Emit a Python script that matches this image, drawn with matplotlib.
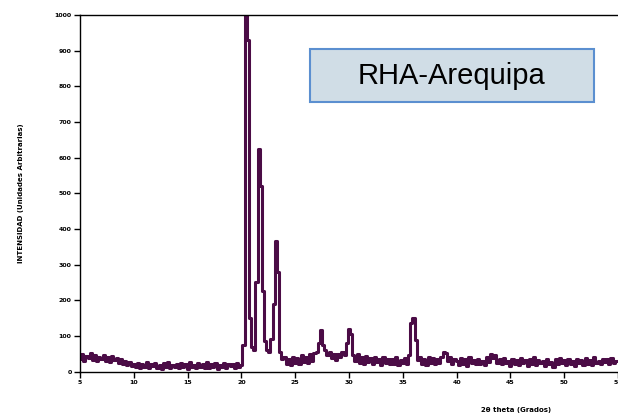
import numpy as np
import matplotlib
matplotlib.use("Agg")
import matplotlib.pyplot as plt
from matplotlib.patches import Rectangle

# scan grid: 5.0 .. 54.8 deg, step 0.2
two_theta = np.linspace(5.0, 54.8, 250)

# intensities, by angle range
low_angle = [35, 48, 30, 44, 38, 52, 33, 45, 29, 42, 36, 47, 30, 40, 27, 43, 33, 38,
             25, 36, 22, 30, 18, 28, 16,
             22, 12, 25, 10, 20, 14, 26, 9, 21, 15,
             24, 11, 19, 8, 23, 13, 27, 10, 18, 12,
             22, 9, 25, 14, 20, 8, 26, 12, 19, 10,
             24, 13, 21, 9, 28, 11, 20, 14, 23, 8,
             19, 12, 25, 10, 22, 15, 20, 9, 24, 13]
main_peaks = [18, 75, 1050, 930, 150, 70, 60, 250, 625, 520,
              225, 85, 60, 55, 90, 190, 365, 280, 55, 35]
mid_angle = [40, 22, 35, 18, 42, 25, 38, 20, 45, 28,
             40, 24, 48, 30, 52, 55, 80, 116, 75, 60,
             45, 55, 38, 50, 32, 48, 40, 55, 45, 80,
             120, 105, 45, 30, 48, 25, 40, 22, 44, 28,
             38, 20, 42, 26, 35, 18, 40, 24, 36, 20,
             34, 22, 40, 18, 32, 25, 38, 20, 45, 135,
             150, 88, 32, 40, 22, 36, 18, 42, 25, 38,
             20, 35, 24, 40, 55, 52, 30, 42, 22, 36]
high_angle = [30, 18, 38, 22, 35, 15, 40, 24, 32, 20,
              36, 22, 30, 18, 42, 28, 48, 38, 45, 25,
              34, 20, 38, 24, 30, 16, 36, 22, 33, 18,
              38, 24, 31, 15, 35, 22, 40, 19, 33, 25,
              30, 16, 36, 22, 28, 14, 34, 20, 38, 24,
              32, 18, 36, 21, 29, 15, 35, 23, 31, 19,
              37, 22, 33, 17, 40, 25, 30, 20, 36, 28,
              34, 20, 38, 24, 30]
intensity = np.array(low_angle + main_peaks + mid_angle + high_angle)

x_ticks = [5, 10, 15, 20, 25, 30, 35, 40, 45, 50, 55]
y_ticks = [0, 100, 200, 300, 400, 500, 600, 700, 800, 900, 1000]

fig = plt.figure(figsize=(6.18, 4.19), dpi=100)
ax = fig.add_axes([80 / 618, 47.5 / 419, 538 / 618, 356.5 / 419])

ax.plot(two_theta, intensity, color="#4b0c46", lw=2.2, drawstyle="steps-mid")

ax.set_xlim(5, 54.7)
ax.set_ylim(0, 1000)
ax.set_xticks(x_ticks)
ax.set_yticks(y_ticks)
ax.tick_params(direction="out", length=4, width=1, labelsize=4.5, pad=2)
for lab in ax.get_xticklabels() + ax.get_yticklabels():
    lab.set_fontweight("bold")
ax.spines["right"].set_visible(False)
for s in ["left", "bottom", "top"]:
    ax.spines[s].set_linewidth(1)

ax.set_ylabel("INTENSIDAD (Unidades Arbitrarias)", fontsize=5, fontweight="bold", labelpad=22)
fig.text(516 / 618, 1 - 410 / 419, "2\u03b8 theta (Grados)", fontsize=5,
         fontweight="bold", ha="center", va="center")

# title box
fig.patches.append(Rectangle((310 / 618, 1 - 102 / 419), 284 / 618, 53 / 419,
                             transform=fig.transFigure, facecolor="#d0dde6",
                             edgecolor="#5b8fd0", lw=1.5))
fig.text(451 / 618, 1 - 76 / 419, "RHA-Arequipa", fontsize=21,
         family="Liberation Sans", ha="center", va="center")

fig.savefig("out.png", dpi=100)
